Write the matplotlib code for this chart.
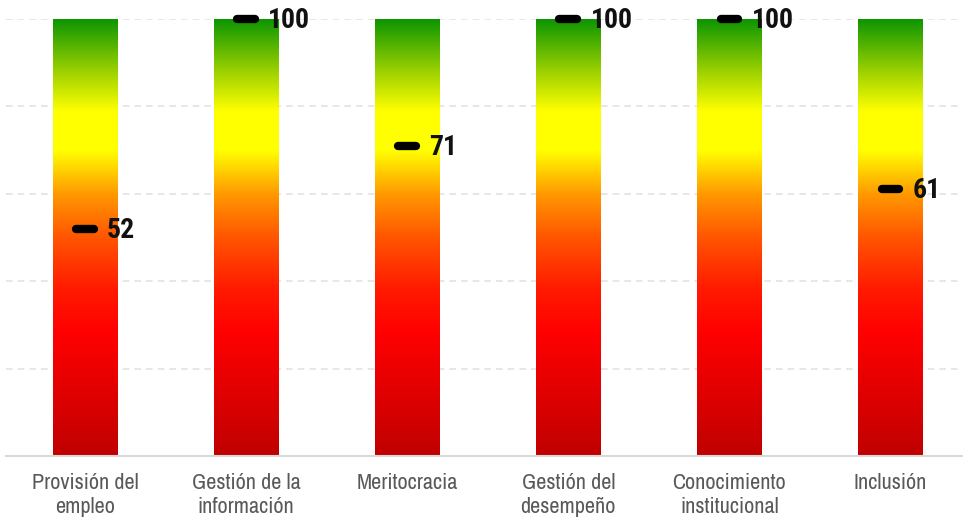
import numpy as np
import matplotlib.pyplot as plt
from matplotlib.colors import LinearSegmentedColormap

categories = ["Provisión del\nempleo", "Gestión de la\ninformación", "Meritocracia",
              "Gestión del\ndesempeño", "Conocimiento\ninstitucional", "Inclusión"]
values = [52, 100, 71, 100, 100, 61]
scale_max = 100

cmap = LinearSegmentedColormap.from_list("semaforo", [
    (0.0, "#c00000"), (0.28, "#ff0000"), (0.38, "#ff1a00"), (0.5, "#ff5500"),
    (0.6, "#ff9900"), (0.7, "#ffff00"), (0.79, "#ffff00"), (0.88, "#9ed200"),
    (1.0, "#0e9600"),
])

plt.rcParams["font.family"] = ["Liberation Sans Narrow", "Archivo Narrow", "DejaVu Sans"]

fig = plt.figure(figsize=(9.63, 5.29), dpi=100)
ax = fig.add_axes([6 / 963, 73 / 529, 1 - 6 / 963, (456 - 19) / 529])

x = np.arange(len(categories))
bars = ax.bar(x, [scale_max] * len(x), width=0.4, color="none", zorder=2)
grad = np.linspace(0, 1, 256).reshape(-1, 1)
for b in bars:
    im = ax.imshow(grad, cmap=cmap, origin="lower", aspect="auto", zorder=2,
                   extent=(b.get_x(), b.get_x() + b.get_width(), 0, b.get_height()))
    im.set_clip_path(b)

ax.hlines(values, x - 0.055, x + 0.055, colors="black", linewidth=6,
          capstyle="round", zorder=3, clip_on=False)
for xi, v in zip(x, values):
    ax.annotate(str(v), (xi, v), xytext=(16, -1), textcoords="offset points",
                ha="left", va="center", fontsize=20, fontweight="bold",
                family=["Roboto Condensed", "Asap Condensed", "Archivo Narrow"],
                color="#111111", zorder=4, annotation_clip=False)

ax.set_xlim(-0.49, 5.45)
ax.set_ylim(0, scale_max)
ax.set_yticks([20, 40, 60, 80, 100])
ax.set_yticklabels([])
ax.yaxis.grid(True, linestyle=(0, (4, 3)), color="#e3e3e3", linewidth=1.2, zorder=0)
ax.set_axisbelow(True)
ax.tick_params(axis="y", length=0)
ax.set_xticks(x)
ax.set_xticklabels(categories, fontsize=16, color="#595959", linespacing=1.3)
ax.tick_params(axis="x", length=0, pad=12)
for s in ["top", "right", "left"]:
    ax.spines[s].set_visible(False)
ax.spines["bottom"].set_color("#d9d9d9")
ax.spines["bottom"].set_linewidth(1.5)

fig.savefig("out.png", dpi=100)
